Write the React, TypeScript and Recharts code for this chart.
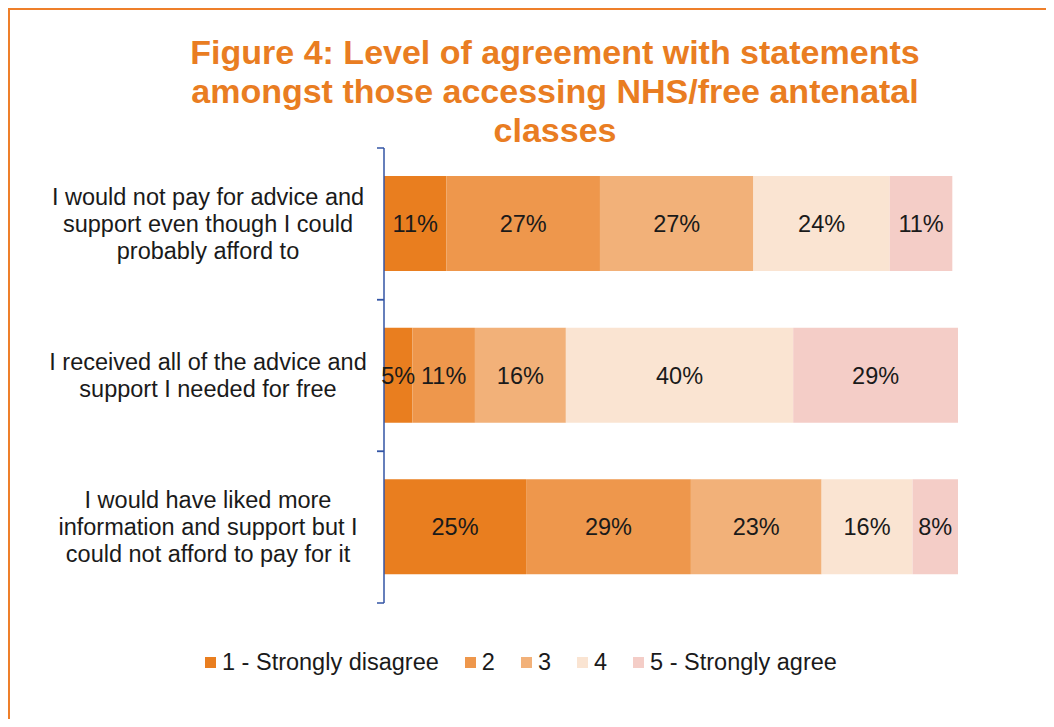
import React from "react";
import { Bar, BarChart, LabelList, Legend, XAxis, YAxis } from "recharts";

const categories = [
  "I would not pay for advice and\nsupport even though I could\nprobably afford to",
  "I received all of the advice and\nsupport I needed for free",
  "I would have liked more\ninformation and support but I\ncould not afford to pay for it",
];
const seriesNames = ["1 - Strongly disagree", "2", "3", "4", "5 - Strongly agree"];
const strongDisagree = [11, 5, 25];
const level2 = [27, 11, 29];
const level3 = [27, 16, 23];
const level4 = [24, 40, 16];
const strongAgree = [11, 29, 8];
const seriesColors = ["#E97E1F", "#EE974C", "#F2B179", "#FAE4D2", "#F4CDC7"];

const seriesValues = [strongDisagree, level2, level3, level4, strongAgree];
const data = categories.map((name, i) => {
  const row: Record<string, string | number> = { name };
  seriesValues.forEach((vals, s) => {
    row["s" + s] = vals[i];
  });
  return row;
});

const FONT = "'Liberation Sans', Arial, sans-serif";
const TEXT_SIZE = 23.5;
const W = 1046;
const H = 711;
const MARGIN = { top: 140, right: 96, bottom: 116, left: 0 };
const YAXIS_W = 376;
const BAND = (H - MARGIN.top - MARGIN.bottom) / categories.length;
const AXIS_COLOR = "#3355A5";
const LABEL_X = 200;
const LINE_H = 27;

const CategoryTick = (props: any) => {
  const { y, payload } = props;
  const lines = String(payload.value).split("\n");
  const first = y + 8 - ((lines.length - 1) * LINE_H) / 2;
  const axisX = MARGIN.left + YAXIS_W;
  return (
    <g>
      <line x1={axisX - 7} x2={axisX} y1={y - BAND / 2} y2={y - BAND / 2} stroke={AXIS_COLOR} strokeWidth={1.5} />
      <line x1={axisX - 7} x2={axisX} y1={y + BAND / 2} y2={y + BAND / 2} stroke={AXIS_COLOR} strokeWidth={1.5} />
      <text textAnchor="middle" fill="#1a1a1a" fontSize={TEXT_SIZE} fontFamily={FONT}>
        {lines.map((l, i) => (
          <tspan key={i} x={LABEL_X} y={first + i * LINE_H}>
            {l}
          </tspan>
        ))}
      </text>
    </g>
  );
};

const LegendContent = (props: any) => {
  const { payload } = props;
  return (
    <div style={{ display: "flex", alignItems: "center", fontFamily: FONT, fontSize: TEXT_SIZE, lineHeight: "27px", color: "#1a1a1a", whiteSpace: "nowrap" }}>
      {(payload || []).map((p: any, i: number) => (
        <div key={i} style={{ display: "flex", alignItems: "center", marginRight: 26 }}>
          <span style={{ display: "inline-block", width: 11, height: 11, background: p.color, marginRight: 6 }} />
          <span>{p.value}</span>
        </div>
      ))}
    </div>
  );
};

export default function App() {
  return (
    <div style={{ position: "relative", width: W, height: H, overflow: "hidden", background: "#fff" }}>
      <div
        style={{
          position: "absolute",
          left: 0,
          top: 0,
          width: 1200,
          height: 900,
          border: "2px solid #EE7F2A",
        }}
      />
      <div
        style={{
          position: "absolute",
          left: 147,
          top: 25,
          width: 800,
          textAlign: "center",
          fontFamily: FONT,
          fontWeight: "bold",
          fontSize: 34,
          lineHeight: "39px",
          color: "#E97D22",
        }}
      >
        Figure 4: Level of agreement with statements
        <br />
        amongst those accessing NHS/free antenatal
        <br />
        classes
      </div>
      <div style={{ position: "absolute", left: 0, top: 0 }}>
        <BarChart width={W} height={H} data={data} layout="vertical" margin={MARGIN}>
          <XAxis type="number" domain={[0, 101]} hide />
          <YAxis
            type="category"
            dataKey="name"
            width={YAXIS_W}
            axisLine={{ stroke: AXIS_COLOR, strokeWidth: 1.5 }}
            tickLine={false}
            tick={<CategoryTick />}
            interval={0}
          />
          <Legend
            layout="horizontal"
            verticalAlign="middle"
            content={<LegendContent />}
            wrapperStyle={{ top: 641, left: 197, width: "auto" }}
          />
          {seriesNames.map((n, s) => (
            <Bar key={n} dataKey={"s" + s} name={n} stackId="a" fill={seriesColors[s]} barSize={95} isAnimationActive={false}>
              <LabelList
                dataKey={"s" + s}
                position="center"
                formatter={(v: any) => `${v}%`}
                fill="#1a1a1a"
                fontSize={TEXT_SIZE}
                fontFamily={FONT}
              />
            </Bar>
          ))}
        </BarChart>
      </div>
    </div>
  );
}
